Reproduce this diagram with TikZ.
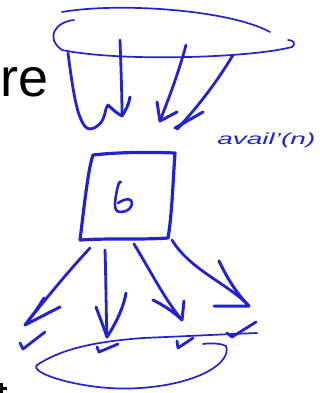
\documentclass[tikz,border=0pt]{standalone}
\usepackage{fontspec}
\setmainfont{Liberation Sans}
\usetikzlibrary{calc}
\definecolor{ink}{RGB}{35,35,205}
\tikzset{
  pen/.style={draw=ink, line width=2.8pt, line cap=round, line join=round},
  thin pen/.style={draw=ink, line width=1.7pt, line cap=round, line join=round},
  head/.style={draw=ink, line width=3pt, line cap=round, line join=round},
}
\begin{document}
\begin{tikzpicture}[x=1pt,y=-1pt]
\useasboundingbox (0,0) rectangle (320,393);
\clip (0,0) rectangle (320,393);
\fill[white] (0,0) rectangle (320,393);

% slide text fragments
\node[anchor=base west, inner sep=0pt, font=\fontsize{54}{54}\selectfont] (re) at (0,97) {re};
\fill[black] (0,383) rectangle (2.5,393);
\fill[black] (0,387) rectangle (7,390);

% top ellipse
\draw[thin pen] (62,12) .. controls (120,2) and (230,10) .. (270,32);
\draw[thin pen] (74,20) .. controls (55,22) and (45,38) .. (62,50)
  .. controls (120,62) and (250,58) .. (292,47)
  .. controls (296,44) and (294,40) .. (288,40);

% arrows top -> box
\coordinate (t1s) at (68,53);  \coordinate (t1e) at (90,129);
\coordinate (t2s) at (120,40); \coordinate (t2e) at (122,116);
\coordinate (t3s) at (186,45); \coordinate (t3e) at (160,121);
\coordinate (t4s) at (233,55); \coordinate (t4e) at (177,129);
\draw[pen] (t1s) .. controls (72,85) and (76,108) .. (80,117)
  .. controls (83,125) and (86,129) .. (t1e)
  .. controls (98,128) and (103,122) .. (105,113)
  .. controls (106,108) and (107,106) .. (108,105);
\draw[pen] (t2s) .. controls (121,70) and (122,95) .. (t2e);
\draw[head] (108,105) .. controls (113,110) and (118,114) .. (t2e) .. controls (126,110) and (129,104) .. (130,97);
\draw[pen] (t3s) .. controls (178,75) and (168,100) .. (t3e);
\draw[head] (157,102) -- (t3e) -- (177,112);
\draw[pen] (t4s) .. controls (215,85) and (195,110) .. (t4e);
\draw[head] (175,128) -- (203,112);
\draw[head] (183,123) -- (t4e);

\node[text=ink, font=\itshape\fontsize{16}{16}\selectfont, anchor=west, inner sep=0pt, xscale=1.75] (avail) at (217,140) {avail'(n)};

% box
\coordinate (bA) at (93,155); \coordinate (bB) at (175,153);
\coordinate (bC) at (168,238); \coordinate (bD) at (80,240);
\draw[pen, line width=3.2pt] (bD) .. controls (85,200) and (88,170) .. (bA)
  .. controls (120,152) and (150,152) .. (bB)
  .. controls (173,180) and (172,215) .. (bC)
  .. controls (140,240) and (110,238) .. (bD);
\node[inner sep=0pt] (b) at (122,197) {};
\draw[pen, line width=2.6pt] (121,182) .. controls (120,181) and (119,182) .. (118,186)
  .. controls (116,194) and (115,200) .. (115,205)
  .. controls (115,210) and (117,212) .. (121,212)
  .. controls (127,212) and (132,208) .. (132,203)
  .. controls (132,198) and (126,198) .. (118,203);

% arrows box -> bottom
\coordinate (d1s) at (90,248);  \coordinate (d1e) at (25,325);
\coordinate (d2s) at (105,250); \coordinate (d2e) at (107,337);
\coordinate (d3s) at (134,244); \coordinate (d3e) at (182,320);
\coordinate (d4s) at (172,240); \coordinate (d4e) at (249,306);
\draw[pen] (d1s) .. controls (65,275) and (45,300) .. (d1e);
\draw[head] (44,298) .. controls (38,308) and (32,316) .. (d1e) -- (60,307);
\draw[pen] (d2s) .. controls (106,280) and (106,310) .. (d2e);
\draw[head] (96,307) .. controls (100,318) and (104,328) .. (d2e) .. controls (118,320) and (124,305) .. (126,293);
\draw[pen] (d3s) .. controls (150,270) and (165,300) .. (d3e);
\draw[head] (153,300) .. controls (165,306) and (175,313) .. (d3e) -- (184,301);
\draw[pen] (d4s) .. controls (190,270) and (230,285) .. (d4e);
\draw[head] (219,261) .. controls (228,280) and (238,295) .. (d4e) -- (214,306);

% bottom ellipse
\draw[thin pen] (37,365) .. controls (60,350) and (90,342) .. (143,338)
  .. controls (190,336) and (230,334) .. (257,333);
\draw[thin pen] (37,365) .. controls (28,374) and (90,392) .. (140,388)
  .. controls (200,384) and (232,362) .. (226,346)
  .. controls (220,343) and (210,343) .. (203,344);
% small ticks on bottom ellipse
\draw[pen] (20,343) -- (23,349) -- (45,332);
\draw[pen] (97,347) -- (99,352) -- (118,344);
\draw[pen] (177,341) -- (178,348) -- (193,338);
\draw[pen] (227,333) -- (232,337) -- (256,322);
\end{tikzpicture}
\end{document}
